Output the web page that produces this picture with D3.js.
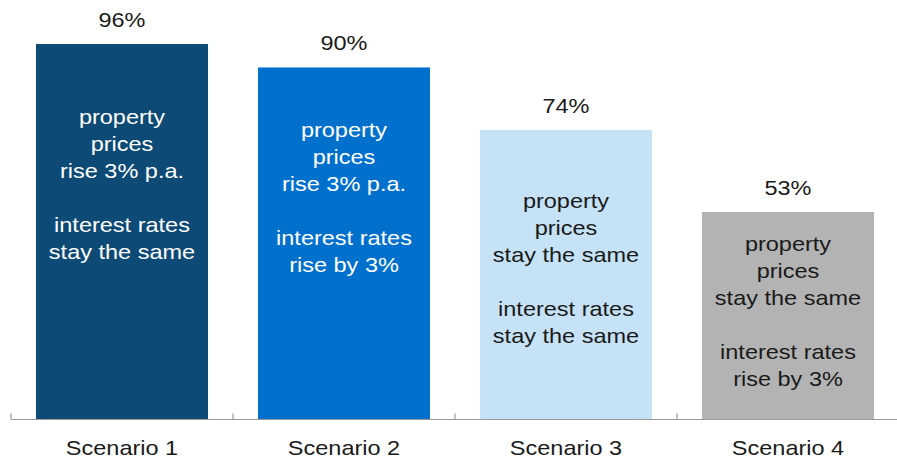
<!DOCTYPE html>
<html>
<head>
<meta charset="utf-8">
<script src="https://cdn.jsdelivr.net/npm/d3@7"></script>
<style>
  body { margin: 0; background: #fff; }
  text { font-family: "Liberation Sans", Arial, sans-serif; }
</style>
</head>
<body>
<svg id="chart"></svg>
<script>
let scenarios = ["Scenario 1", "Scenario 2", "Scenario 3", "Scenario 4"];
let values = [96, 90, 74, 53];
let valueLabels = ["96%", "90%", "74%", "53%"];
let barText = [
  ["property", "prices", "rise 3% p.a.", "", "interest rates", "stay the same"],
  ["property", "prices", "rise 3% p.a.", "", "interest rates", "rise by 3%"],
  ["property", "prices", "stay the same", "", "interest rates", "stay the same"],
  ["property", "prices", "stay the same", "", "interest rates", "rise by 3%"]
];
let colors = ["#0D4A75", "#0070CD", "#C5E2F7", "#B3B3B3"];
let textColors = ["#ffffff", "#ffffff", "#1a1a1a", "#1a1a1a"];
// where the first text line sits below the bar top (px)
let textOffset = [80, 70, 78, 39];

let width = 897, height = 462;
let svg = d3.select("#chart").attr("width", width).attr("height", height);

let x = d3.scaleBand()
  .domain(scenarios)
  .range([11, 899])
  .paddingInner(0.225)
  .paddingOuter(0.1125);

let y = d3.scaleLinear()
  .domain([0, 100])
  .range([419, 28.4]);

let fs = 21, sx = 1.12;

// bars
svg.append("g")
  .selectAll("rect")
  .data(values)
  .enter().append("rect")
  .attr("x", (d, i) => x(scenarios[i]))
  .attr("y", d => y(d))
  .attr("width", x.bandwidth())
  .attr("height", d => y(0) - y(d))
  .attr("fill", (d, i) => colors[i]);

// value labels above bars
svg.append("g")
  .selectAll("text")
  .data(values)
  .enter().append("text")
  .attr("transform", (d, i) => `translate(${x(scenarios[i]) + x.bandwidth() / 2},${y(d) - 17}) scale(${sx},1)`)
  .attr("text-anchor", "middle")
  .attr("font-size", fs)
  .attr("fill", "#1a1a1a")
  .text((d, i) => valueLabels[i]);

// text inside bars
barText.forEach((lines, i) => {
  let cx = x(scenarios[i]) + x.bandwidth() / 2;
  let top = y(values[i]) + textOffset[i];
  svg.append("g")
    .selectAll("text")
    .data(lines)
    .enter().append("text")
    .attr("transform", (d, j) => `translate(${cx},${top + j * 27}) scale(${sx},1)`)
    .attr("text-anchor", "middle")
    .attr("font-size", fs)
    .attr("fill", textColors[i])
    .text(d => d);
});

// axis
let axis = svg.append("g").attr("transform", "translate(0,419.5)");
axis.append("line")
  .attr("x1", 11).attr("x2", 897)
  .attr("stroke", "#9a9a9a").attr("stroke-width", 1.2);
let tickPos = scenarios.map(s => x(s) - x.step() * x.paddingInner() / 2);
axis.selectAll(".tick")
  .data(tickPos)
  .enter().append("line")
  .attr("x1", d => d).attr("x2", d => d)
  .attr("y1", 0).attr("y2", -6)
  .attr("stroke", "#9a9a9a").attr("stroke-width", 1.2);

axis.selectAll(".cat")
  .data(scenarios)
  .enter().append("text")
  .attr("transform", d => `translate(${x(d) + x.bandwidth() / 2},35.5) scale(${sx},1)`)
  .attr("text-anchor", "middle")
  .attr("font-size", fs)
  .attr("fill", "#1a1a1a")
  .text(d => d);
</script>
</body>
</html>
